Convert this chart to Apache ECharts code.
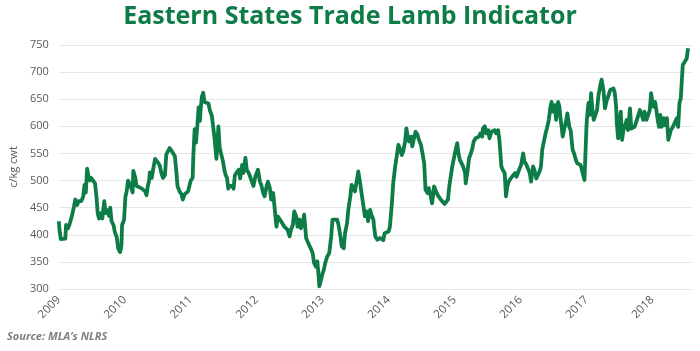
<!DOCTYPE html>
<html lang="en">
<head>
    <meta charset="UTF-8">
    <title>Eastern States Trade Lamb Indicator</title>
    <script src="https://cdn.jsdelivr.net/npm/echarts@6/dist/echarts.min.js"></script>
    <style>
        html, body { margin: 0; padding: 0; background: #fff; }
        #dom { width: 700px; height: 351px; }
    </style>
</head>
<body>
<div id="dom"></div>
<script>
    // year ticks shown under the chart
    var years = [2009, 2010, 2011, 2012, 2013, 2014, 2015, 2016, 2017, 2018];
    var yTicks = [300, 350, 400, 450, 500, 550, 600, 650, 700, 750];

    // weekly-ish reading of the indicator, c/kg cwt: [decimal year, value]
    var eyci2009 = [
        [2009.00,425],[2009.01,410],[2009.03,392],[2009.06,395],[2009.10,393],[2009.11,418],[2009.14,412],
        [2009.16,418],[2009.20,435],[2009.23,452],[2009.25,465],[2009.28,455],[2009.30,462],[2009.34,462],
        [2009.37,470],[2009.39,492],[2009.41,478],[2009.43,522],[2009.45,508],[2009.47,500],[2009.49,505],
        [2009.52,504],[2009.55,495],[2009.57,472],[2009.59,440],[2009.61,430],[2009.64,440],[2009.66,430],
        [2009.69,462],[2009.71,440],[2009.74,445],[2009.76,435],[2009.78,450],[2009.80,425],[2009.83,418],
        [2009.85,405],[2009.88,395],[2009.90,375],[2009.93,368],[2009.95,380],[2009.96,418],[2009.99,428]
    ];
    var eyci2010 = [
        [2010.01,470],[2010.03,480],[2010.05,500],[2010.07,495],[2010.09,490],[2010.12,478],[2010.13,518],
        [2010.16,505],[2010.18,490],[2010.21,488],[2010.25,486],[2010.28,483],[2010.31,480],[2010.33,473],
        [2010.35,490],[2010.37,500],[2010.38,515],[2010.41,505],[2010.43,520],[2010.46,540],[2010.48,543],
        [2010.51,532],[2010.53,528],[2010.56,512],[2010.58,505],[2010.61,510],[2010.63,548],[2010.66,555],
        [2010.68,560],[2010.71,555],[2010.74,552],[2010.76,545],[2010.78,520],[2010.80,490],[2010.83,480],
        [2010.86,475],[2010.88,465],[2010.91,475],[2010.93,472],[2010.96,480],[2010.98,490]
    ];
    var eyci2011 = [
        [2011.00,500],[2011.03,505],[2011.04,545],[2011.06,595],[2011.08,570],[2011.10,600],[2011.12,635],
        [2011.14,610],[2011.15,630],[2011.17,655],[2011.19,662],[2011.21,645],[2011.24,645],[2011.27,642],
        [2011.29,630],[2011.32,620],[2011.34,600],[2011.36,580],[2011.39,540],[2011.41,580],[2011.42,600],
        [2011.44,560],[2011.46,550],[2011.49,535],[2011.51,520],[2011.53,510],[2011.55,505],[2011.57,485],
        [2011.59,490],[2011.63,490],[2011.65,485],[2011.67,510],[2011.70,507],[2011.73,520],[2011.75,504],
        [2011.78,529],[2011.80,514],[2011.83,542],[2011.85,520],[2011.88,514],[2011.91,504],[2011.95,490],
        [2011.98,507]
    ];
    var eyci2012 = [
        [2012.00,507],[2012.02,520],[2012.05,498],[2012.07,492],[2012.10,477],[2012.12,471],[2012.15,489],
        [2012.17,498],[2012.20,486],[2012.22,465],[2012.25,477],[2012.27,474],[2012.30,415],[2012.32,434],
        [2012.35,434],[2012.37,425],[2012.40,419],[2012.42,415],[2012.45,415],[2012.47,409],[2012.50,397],
        [2012.52,409],[2012.55,419],[2012.57,443],[2012.60,434],[2012.62,415],[2012.65,428],[2012.67,412],
        [2012.70,421],[2012.72,437],[2012.75,394],[2012.77,388],[2012.80,380],[2012.82,375],[2012.85,366],
        [2012.87,348],[2012.90,341],[2012.92,351],[2012.94,323],[2012.95,305],[2012.97,314]
    ];
    var eyci2013 = [
        [2013.00,329],[2013.02,336],[2013.04,348],[2013.07,360],[2013.10,366],[2013.13,397],[2013.15,428],
        [2013.18,431],[2013.22,428],[2013.24,419],[2013.27,397],[2013.29,379],[2013.32,375],[2013.34,403],
        [2013.37,421],[2013.39,446],[2013.42,471],[2013.44,492],[2013.47,489],[2013.49,480],[2013.52,501],
        [2013.54,517],[2013.57,495],[2013.59,477],[2013.62,452],[2013.64,434],[2013.67,443],[2013.69,425],
        [2013.72,446],[2013.74,437],[2013.77,428],[2013.78,415],[2013.80,397],[2013.83,391],[2013.87,394],
        [2013.89,397],[2013.92,390],[2013.94,403],[2013.97,406]
    ];
    var eyci2014 = [
        [2014.00,406],[2014.02,415],[2014.05,458],[2014.07,495],[2014.10,526],[2014.13,550],[2014.15,566],
        [2014.17,559],[2014.20,547],[2014.22,553],[2014.25,572],[2014.27,596],[2014.29,581],[2014.31,572],
        [2014.34,581],[2014.36,563],[2014.39,581],[2014.41,590],[2014.44,584],[2014.46,575],[2014.49,566],
        [2014.51,553],[2014.54,532],[2014.56,483],[2014.59,477],[2014.61,486],[2014.64,471],[2014.66,458],
        [2014.69,489],[2014.71,483],[2014.74,474],[2014.76,471],[2014.79,465],[2014.81,462],[2014.85,457],
        [2014.87,455],[2014.90,465],[2014.92,489],[2014.95,514],[2014.97,529]
    ];
    var eyci2015 = [
        [2015.00,547],[2015.02,550],[2015.04,569],[2015.06,550],[2015.08,538],[2015.11,538],[2015.13,526],
        [2015.16,514],[2015.17,495],[2015.20,520],[2015.22,541],[2015.24,547],[2015.27,559],[2015.29,572],
        [2015.32,578],[2015.34,578],[2015.37,581],[2015.39,587],[2015.42,581],[2015.43,596],[2015.46,600],
        [2015.48,587],[2015.51,593],[2015.53,578],[2015.56,590],[2015.58,587],[2015.61,593],[2015.63,587],
        [2015.66,593],[2015.68,575],[2015.71,526],[2015.73,520],[2015.76,514],[2015.78,471],[2015.80,489],
        [2015.82,498],[2015.84,501],[2015.87,507],[2015.89,504],[2015.92,514],[2015.94,507],[2015.97,517],
        [2015.99,514]
    ];
    var eyci2016 = [
        [2016.01,529],[2016.04,550],[2016.06,535],[2016.09,529],[2016.11,532],[2016.14,514],[2016.16,498],
        [2016.19,526],[2016.21,520],[2016.24,504],[2016.26,507],[2016.29,517],[2016.31,526],[2016.33,557],
        [2016.35,560],[2016.38,587],[2016.40,596],[2016.43,612],[2016.45,633],[2016.47,645],[2016.49,627],
        [2016.52,639],[2016.54,612],[2016.57,645],[2016.59,636],[2016.61,612],[2016.64,581],[2016.66,593],
        [2016.69,609],[2016.71,624],[2016.74,599],[2016.76,593],[2016.79,557],[2016.81,551],[2016.84,538],
        [2016.86,532],[2016.89,535],[2016.91,529],[2016.94,526],[2016.97,501],[2016.98,498]
    ];
    var eyci2017 = [
        [2017.00,600],[2017.01,618],[2017.03,643],[2017.05,621],[2017.07,661],[2017.09,630],[2017.11,612],
        [2017.13,615],[2017.16,630],[2017.18,655],[2017.21,676],[2017.23,686],[2017.26,664],[2017.28,633],
        [2017.31,649],[2017.33,655],[2017.36,667],[2017.38,670],[2017.41,670],[2017.43,661],[2017.45,636],
        [2017.46,606],[2017.48,578],[2017.50,606],[2017.52,627],[2017.54,575],[2017.56,593],[2017.58,599],
        [2017.61,612],[2017.63,593],[2017.66,633],[2017.68,596],[2017.71,596],[2017.73,599],[2017.76,602],
        [2017.78,618],[2017.81,630],[2017.83,624],[2017.86,612],[2017.88,627],[2017.91,612],[2017.93,612],
        [2017.96,630],[2017.98,661]
    ];
    var eyci2018 = [
        [2018.00,645],[2018.02,636],[2018.04,645],[2018.06,630],[2018.08,612],[2018.10,599],[2018.12,621],
        [2018.14,599],[2018.17,615],[2018.19,602],[2018.22,615],[2018.24,575],[2018.26,572],[2018.28,593],
        [2018.31,599],[2018.34,596],[2018.37,615],[2018.39,599],[2018.41,643],[2018.43,652],[2018.46,713],
        [2018.49,716],[2018.52,725],[2018.54,744]
    ];

    var seriesData = [].concat(eyci2009, eyci2010, eyci2011, eyci2012, eyci2013,
        eyci2014, eyci2015, eyci2016, eyci2017, eyci2018);

    var green = '#0e7c47';
    var grey = '#595959';

    var dom = document.getElementById("dom");
    var myCharts = echarts.init(dom, null, {renderer: 'canvas'});
    var option = {
        animation: false,
        backgroundColor: '#fff',
        title: {
            text: 'Eastern States Trade Lamb Indicator',
            left: 'center',
            top: -1,
            textStyle: {
                color: green,
                fontFamily: 'Open Sans',
                fontWeight: 'bold',
                fontSize: 25
            }
        },
        graphic: [{
            type: 'text',
            left: 7,
            top: 331,
            style: {
                text: 'Source: MLA\u2019s NLRS',
                fill: '#7f7f7f',
                font: 'italic bold 11px "Open Sans"'
            }
        }],
        grid: {
            left: 48,
            right: 8,
            top: 45,
            bottom: 62
        },
        xAxis: {
            type: 'value',
            min: years[0],
            max: 2018.6,
            interval: 1,
            axisLine: {show: false},
            axisTick: {show: false},
            splitLine: {show: false},
            axisLabel: {
                rotate: 45,
                color: grey,
                fontFamily: 'Open Sans',
                fontSize: 11.5,
                margin: 9,
                showMaxLabel: false,
                formatter: function (v) {
                    return years.indexOf(v) >= 0 ? String(v) : '';
                }
            }
        },
        yAxis: {
            type: 'value',
            min: yTicks[0],
            max: yTicks[yTicks.length - 1],
            interval: 50,
            name: 'c/kg cwt',
            nameLocation: 'middle',
            nameGap: 35,
            nameTextStyle: {
                color: grey,
                fontFamily: 'Open Sans',
                fontSize: 11
            },
            axisLine: {show: false},
            axisTick: {show: false},
            axisLabel: {
                color: grey,
                fontFamily: 'Open Sans',
                fontSize: 11,
                margin: 10
            },
            splitLine: {
                lineStyle: {color: '#e6e6e6', width: 1}
            }
        },
        series: [{
            name: 'ESTLI',
            type: 'line',
            data: seriesData,
            showSymbol: false,
            smooth: false,
            lineStyle: {color: green, width: 3.8, join: 'round'},
            itemStyle: {color: green}
        }]
    };
    myCharts.setOption(option);
</script>
</body>
</html>
